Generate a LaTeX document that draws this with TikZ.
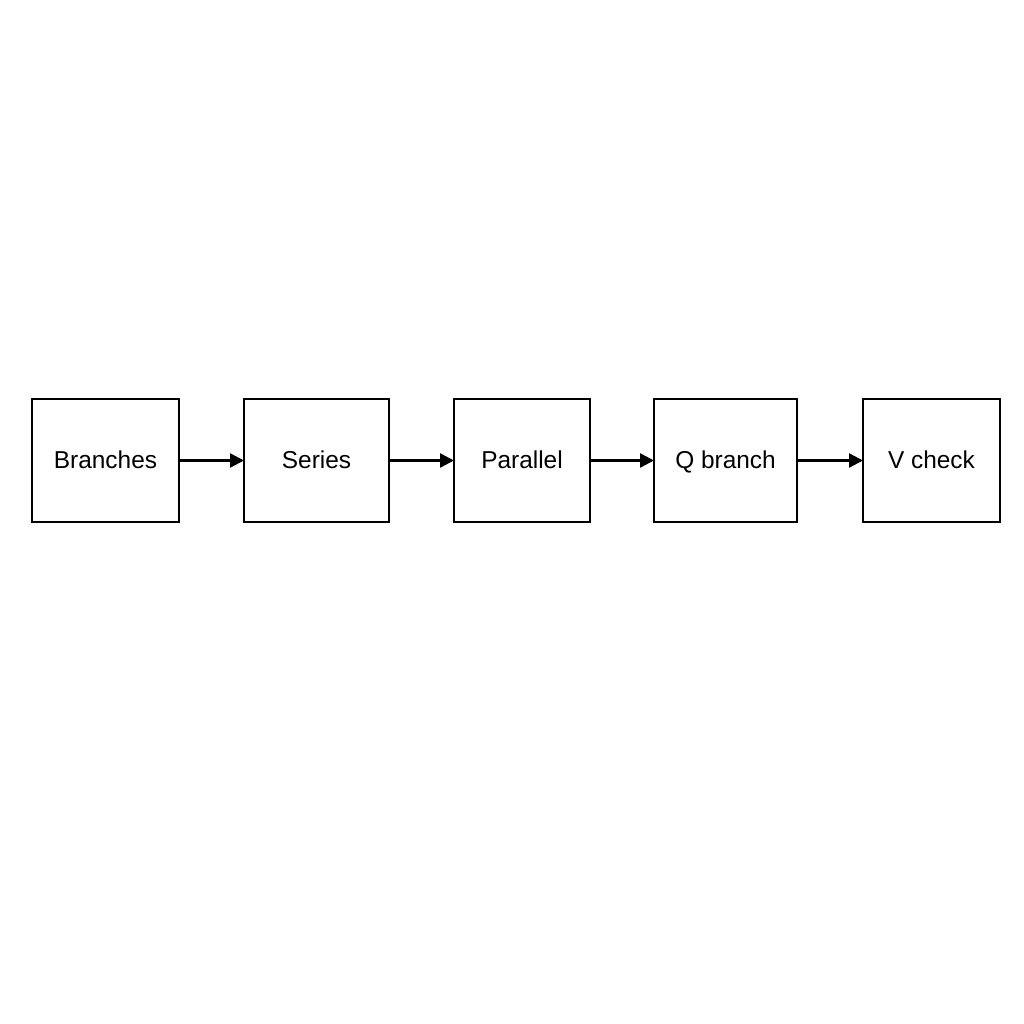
\documentclass[tikz,border=0pt]{standalone}
\usepackage{fontspec}
\setmainfont{Liberation Sans}
\usetikzlibrary{arrows.meta,positioning}

\begin{document}
\begin{tikzpicture}[
				node distance=1.3cm,
				block/.style={draw,rectangle,line width=1.1pt,outer sep=0pt,minimum height=2.46cm,inner sep=0pt,text height=0.96em,text depth=0.08em,font=\fontsize{13.9}{16}\selectfont},
				flow/.style={-{Triangle[length=0.28cm,width=0.28cm]},line width=1.4pt}
				]
				\useasboundingbox[fill=white] (0,0) rectangle (20.48,20.48);
				
				% Blocchi in fila
				\node[block,minimum width=2.94cm] (branches) at (2.11,11.27) {Branches};
				\node[block,minimum width=2.9cm,right=of branches] (series) {Series};
				\node[block,minimum width=2.72cm,right=of series] (parallel) {Parallel};
				\node[block,minimum width=2.86cm,right=1.28cm of parallel] (qbranch) {Q branch};
				\node[block,minimum width=2.74cm,right=1.32cm of qbranch] (vcheck) {V check};
				
				% Connessioni
				\draw[flow] (branches) -- (series);
				\draw[flow] (series) -- (parallel);
				\draw[flow] (parallel) -- (qbranch);
				\draw[flow] (qbranch) -- (vcheck);
				
			\end{tikzpicture}
\end{document}
